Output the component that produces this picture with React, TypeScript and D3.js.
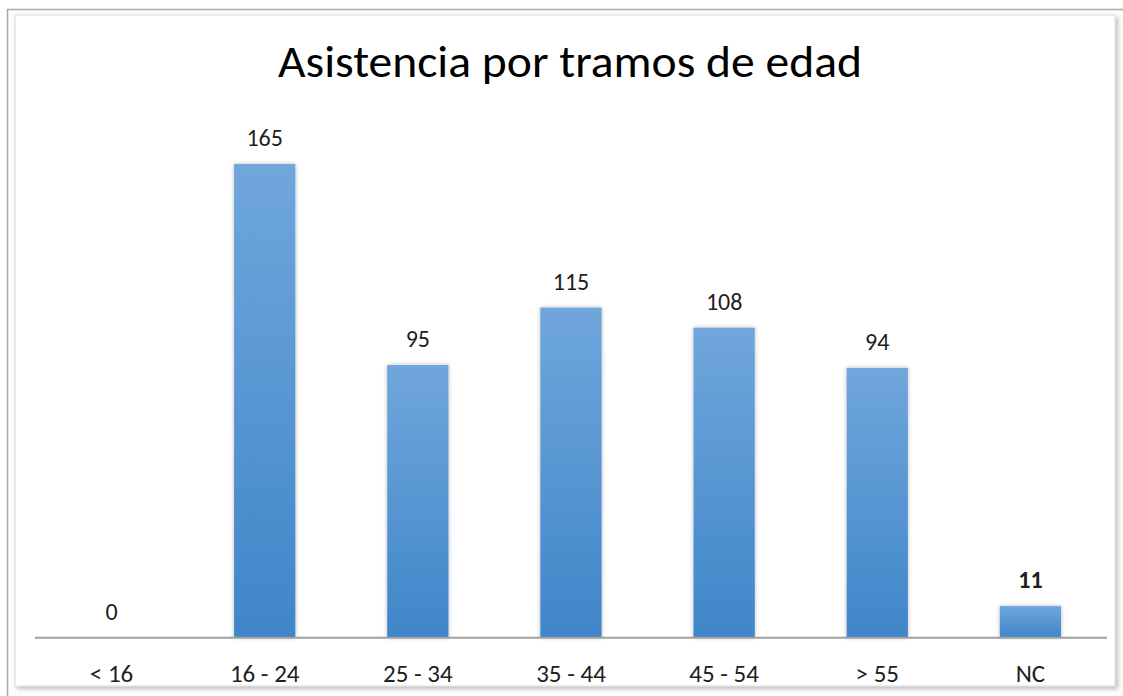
import React from "react";
import * as d3 from "d3";

const categories = ["< 16", "16 - 24", "25 - 34", "35 - 44", "45 - 54", "> 55", "NC"];
const values = [0, 165, 95, 115, 108, 94, 11];
const boldLabels = [false, false, false, false, false, false, true];
const title = "Asistencia por tramos de edad";

const W = 1123;
const H = 696;
const FONT = "Carlito, Lato, 'Open Sans', sans-serif";

export default function App() {
  const x = d3.scaleBand<string>().domain(categories).range([35, 1107]).paddingInner(0.6).paddingOuter(0.3);
  const y = d3.scaleLinear().domain([0, 180]).range([637.7, 121]);

  return (
    <svg width={W} height={H} style={{ position: "absolute", left: 0, top: 0, display: "block" }}>
      <defs>
        <linearGradient id="barGrad" x1="0" y1="0" x2="0" y2="1">
          <stop offset="0" stopColor="#70a6dc" />
          <stop offset="1" stopColor="#3f86c9" />
        </linearGradient>
        <filter id="barShadow" x="-20%" y="-5%" width="140%" height="110%">
          <feDropShadow dx="0" dy="0" stdDeviation="2.2" floodColor="#000" floodOpacity="0.28" />
        </filter>
        <filter id="panelShadow" x="-5%" y="-5%" width="110%" height="110%">
          <feDropShadow dx="2.5" dy="2.5" stdDeviation="2" floodColor="#000" floodOpacity="0.25" />
        </filter>
      </defs>
      <rect x={0} y={0} width={W} height={H} fill="#ffffff" />
      <rect x={7.5} y={9.5} width={1130} height={700} fill="#fdfdfd" stroke="#a9a9a9" strokeWidth={1.5} />
      <rect x={15} y={15} width={1100} height={671} fill="#ffffff" stroke="#dadada" strokeWidth={1} filter="url(#panelShadow)" />
      <text x={570} y={77} textAnchor="middle" fontFamily={FONT} fontSize={45} fill="#000" textLength={584} lengthAdjust="spacingAndGlyphs">
        {title}
      </text>
      {categories.map((c, i) => {
        const v = values[i];
        const bx = x(c)!;
        const bw = x.bandwidth();
        return (
          <g key={c}>
            {v > 0 && (
              <rect x={bx} y={y(v)} width={bw} height={y(0) - y(v)} fill="url(#barGrad)" filter="url(#barShadow)" />
            )}
            <text
              x={bx + bw / 2}
              y={y(v) - 18}
              textAnchor="middle"
              fontFamily={FONT}
              fontSize={24}
              fontWeight={boldLabels[i] ? 700 : 400}
              fill="#1e1e1e"
            >
              {v}
            </text>
            <text x={bx + bw / 2} y={682} textAnchor="middle" fontFamily={FONT} fontSize={25} fill="#1e1e1e">
              {c}
            </text>
          </g>
        );
      })}
      <line x1={35} x2={1107} y1={y(0)} y2={y(0)} stroke="#a0a0a0" strokeWidth={2} />
    </svg>
  );
}
